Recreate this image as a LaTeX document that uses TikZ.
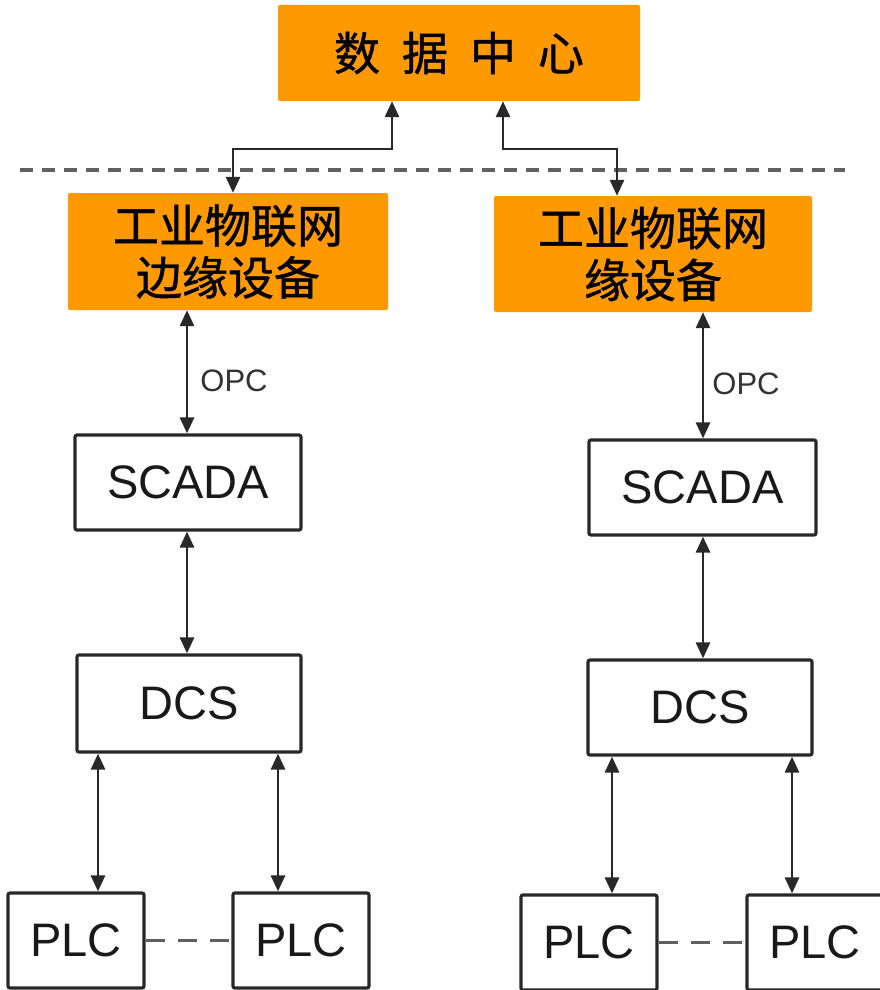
\documentclass[tikz,border=0pt]{standalone}
\usepackage{fontspec}
\setmainfont{Liberation Sans}
\newfontfamily\cjk[FakeBold=1]{Noto Sans CJK SC}
\usetikzlibrary{arrows.meta}
\definecolor{orng}{RGB}{255,153,0}
\definecolor{edge}{RGB}{40,40,40}
\begin{document}
\begin{tikzpicture}[x=1pt,y=-1pt,
  orangebox/.style={fill=orng, draw=none, rounded corners=2pt, inner sep=0pt, align=center, font=\cjk\fontsize{46}{52}\selectfont},
  plainbox/.style={draw=edge, line width=3.2pt, rounded corners=2pt, fill=white, inner sep=0pt, text=black!90, font=\fontsize{47}{50}\selectfont},
  bi/.style={draw=edge, line width=2.8pt, {Triangle[length=16pt,width=14pt]}-{Triangle[length=16pt,width=14pt]}},
  sep/.style={draw=gray!75!black, line width=4pt, dash pattern=on 13pt off 9pt},
  link/.style={draw=gray!75!black, line width=3pt, dash pattern=on 19pt off 13pt},
  lbl/.style={font=\fontsize{31}{33}\selectfont, text=black!80}
]
\useasboundingbox (0,0) rectangle (880,990);
% top
\node[orangebox, minimum width=362, minimum height=96] (dc) at (459,53) {数\hspace{22pt}据\hspace{22pt}中\hspace{22pt}心};
\draw[sep] (20,170) -- (845,170);
\node[orangebox, minimum width=320, minimum height=117] (edgeL) at (228,251.5) {工业物联网\\边缘设备};
\node[orangebox, minimum width=318, minimum height=116] (edgeR) at (653,254) {工业物联网\\缘设备};
\draw[bi] (392,0 |- dc.south) -- (392,149) -- (233,149) -- (233,0 |- edgeL.north);
\draw[bi] (503,0 |- dc.south) -- (503,149) -- (617,149) -- (617,0 |- edgeR.north);
% left column
\node[plainbox, minimum width=226, minimum height=95] (scadaL) at (188,482.5) {SCADA};
\node[plainbox, minimum width=224, minimum height=97] (dcsL) at (189,703.5) {DCS};
\node[plainbox, minimum width=136, minimum height=95] (plcL1) at (76,940.5) {PLC};
\node[plainbox, minimum width=136, minimum height=95] (plcL2) at (301,940.5) {PLC};
\draw[bi] (187,0 |- edgeL.south) -- (187,0 |- scadaL.north);
\node[lbl] (opcL) at (234,381) {OPC};
\draw[bi] (187,0 |- scadaL.south) -- (187,0 |- dcsL.north);
\draw[bi] (98,0 |- dcsL.south) -- (98,0 |- plcL1.north);
\draw[bi] (278,0 |- dcsL.south) -- (278,0 |- plcL2.north);
\draw[link] (plcL1.east) -- (plcL2.west);
% right column
\node[plainbox, minimum width=227, minimum height=95] (scadaR) at (702.5,487.5) {SCADA};
\node[plainbox, minimum width=224, minimum height=95] (dcsR) at (700,707.5) {DCS};
\node[plainbox, minimum width=136, minimum height=95] (plcR1) at (589,942.5) {PLC};
\node[plainbox, minimum width=136, minimum height=95] (plcR2) at (815,942.5) {PLC};
\draw[bi] (703,0 |- edgeR.south) -- (703,0 |- scadaR.north);
\node[lbl] (opcR) at (746,384) {OPC};
\draw[bi] (703,0 |- scadaR.south) -- (703,0 |- dcsR.north);
\draw[bi] (612,0 |- dcsR.south) -- (612,0 |- plcR1.north);
\draw[bi] (792,0 |- dcsR.south) -- (792,0 |- plcR2.north);
\draw[link] (plcR1.east) -- (plcR2.west);
\end{tikzpicture}
\end{document}
